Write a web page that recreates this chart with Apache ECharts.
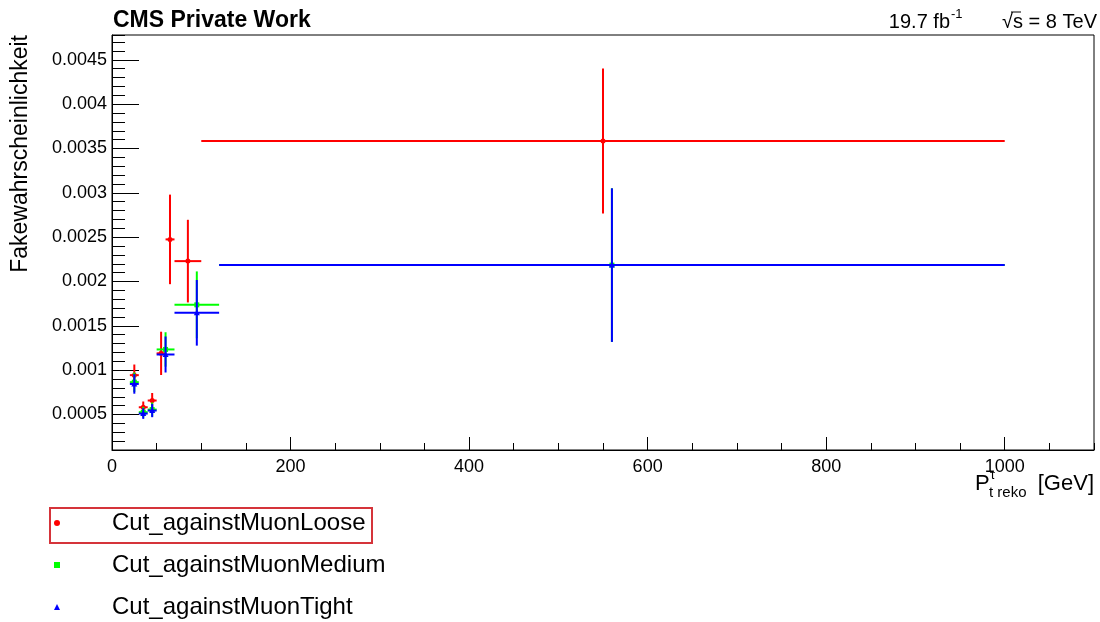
<!DOCTYPE html>
<html><head><meta charset="utf-8">
<script src="https://cdn.jsdelivr.net/npm/echarts/dist/echarts.min.js"></script>
<style>html,body{margin:0;padding:0;background:#fff}#c{width:1100px;height:622px}</style>
</head><body><div id="c"></div>
<script>
// ---- data ----
const seriesNames = ['Cut_againstMuonLoose', 'Cut_againstMuonMedium', 'Cut_againstMuonTight'];

const looseX    = [25, 35, 45, 55, 65, 85, 550];
const looseXLow = [20, 30, 40, 50, 60, 70, 100];
const looseXHigh= [30, 40, 50, 60, 70, 100, 1000];
const looseY    = [0.000944, 0.000582, 0.000658, 0.00119, 0.002475, 0.00223, 0.003585];
const looseYErr = [0.00012, 0.000065, 0.000085, 0.000244, 0.000505, 0.000466, 0.000818];

const mediumX    = [25, 35, 45, 60, 95, 560];
const mediumXLow = [20, 30, 40, 50, 70, 120];
const mediumXHigh= [30, 40, 50, 70, 120, 1000];
const mediumY    = [0.000865, 0.000526, 0.000556, 0.001234, 0.001737, 0.002185];
const mediumYErr = [0.00011, 0.00006, 0.00008, 0.000194, 0.000377, 0.000866];

const tightX    = [25, 35, 45, 60, 95, 560];
const tightXLow = [20, 30, 40, 50, 70, 120];
const tightXHigh= [30, 40, 50, 70, 120, 1000];
const tightY    = [0.000845, 0.000511, 0.000545, 0.001177, 0.001647, 0.002185];
const tightYErr = [0.00011, 0.00006, 0.000075, 0.000203, 0.00037, 0.000866];

const xRange = [0, 1100];
const yRange = [0.0001, 0.00478];

// ---- build ----
function build(x, xl, xh, y, ye) {
  return x.map((v, i) => [v, y[i], xl[i], xh[i], y[i] - ye[i], y[i] + ye[i]]);
}
const FONT = 'Liberation Sans, Arial, Helvetica, sans-serif';

function makeRender(shape) {
  return function (params, api) {
    const c = api.coord([api.value(0), api.value(1)]);
    const pl = api.coord([api.value(2), api.value(1)]);
    const ph = api.coord([api.value(3), api.value(1)]);
    const pb = api.coord([api.value(0), api.value(4)]);
    const pt = api.coord([api.value(0), api.value(5)]);
    const color = api.visual('color');
    const st = { stroke: color, lineWidth: 2 };
    const children = [
      { type: 'line', shape: { x1: pl[0], y1: c[1], x2: ph[0], y2: c[1] }, style: st },
      { type: 'line', shape: { x1: c[0], y1: pt[1], x2: c[0], y2: pb[1] }, style: st }
    ];
    if (shape === 'circle') {
      children.push({ type: 'circle', shape: { cx: c[0], cy: c[1], r: 2.5 }, style: { fill: color } });
    } else if (shape === 'rect') {
      children.push({ type: 'rect', shape: { x: c[0] - 2.5, y: c[1] - 2.5, width: 5, height: 5 }, style: { fill: color } });
    } else {
      children.push({ type: 'polygon', shape: { points: [[c[0], c[1] - 3], [c[0] - 3, c[1] + 2.5], [c[0] + 3, c[1] + 2.5]] }, style: { fill: color } });
    }
    return { type: 'group', children };
  };
}

const colors = ['#ff0000', '#00ff00', '#0000ff'];
const shapes = ['circle', 'rect', 'triangle'];
const datas = [
  build(looseX, looseXLow, looseXHigh, looseY, looseYErr),
  build(mediumX, mediumXLow, mediumXHigh, mediumY, mediumYErr),
  build(tightX, tightXLow, tightXHigh, tightY, tightYErr)
];

const series = seriesNames.map((n, i) => ({
  name: n,
  type: 'custom',
  xAxisIndex: 0,
  yAxisIndex: 0,
  itemStyle: { color: colors[i] },
  renderItem: makeRender(shapes[i]),
  encode: { x: [0, 2, 3], y: [1, 4, 5] },
  data: datas[i],
  z: 2 + i
}));

const axisText = { color: '#000', fontFamily: FONT, fontSize: 18 };
function yFmt(v) {
  const k = Math.round(v / 0.0005);
  if (Math.abs(v - k * 0.0005) > 1e-9) return '';
  return String(parseFloat(v.toPrecision(4)));
}

const chart = echarts.init(document.getElementById('c'));
chart.setOption({
  animation: false,
  backgroundColor: '#fff',
  grid: { left: 112, right: 6, top: 35, bottom: 172, show: true, borderColor: '#000', borderWidth: 1, backgroundColor: 'transparent' },
  xAxis: [
    { type: 'value', min: xRange[0], max: xRange[1], interval: 200,
      axisLine: { show: true, lineStyle: { color: '#000', width: 1 } },
      axisTick: { show: true, inside: true, length: 13, lineStyle: { color: '#000' } },
      axisLabel: Object.assign({ margin: 8, showMaxLabel: false, formatter: v => (v % 200 === 0 ? String(v) : '') }, axisText),
      splitLine: { show: false } },
    { type: 'value', min: xRange[0], max: xRange[1], interval: 50,
      position: 'bottom',
      axisLine: { show: false },
      axisTick: { show: true, inside: true, length: 7, lineStyle: { color: '#000' } },
      axisLabel: { show: false }, splitLine: { show: false } }
  ],
  yAxis: [
    { type: 'value', min: yRange[0], max: yRange[1], minInterval: 0.0005, maxInterval: 0.0005, splitNumber: 9,
      axisLine: { show: true, lineStyle: { color: '#000', width: 1 } },
      axisTick: { show: true, inside: true, length: 27, lineStyle: { color: '#000' } },
      axisLabel: Object.assign({ margin: 5, formatter: yFmt, showMinLabel: false, showMaxLabel: false }, axisText),
      splitLine: { show: false } },
    { type: 'value', min: yRange[0], max: yRange[1], interval: 0.0001,
      position: 'left',
      axisLine: { show: false },
      axisTick: { show: true, inside: true, length: 13, lineStyle: { color: '#000' } },
      axisLabel: { show: false }, splitLine: { show: false } }
  ],
  legend: {
    orient: 'vertical', left: 54, top: 511, bottom: 0, itemGap: 18, padding: 0,
    itemWidth: 6, itemHeight: 6,
    textStyle: { color: '#000', fontFamily: FONT, fontSize: 24, lineHeight: 24, padding: [0, 0, 0, 47] },
    data: [
      { name: seriesNames[0], icon: 'circle' },
      { name: seriesNames[1], icon: 'rect' },
      { name: seriesNames[2], icon: 'triangle' }
    ],
    selectedMode: false
  },
  graphic: [
    { type: 'rect', shape: { x: 50, y: 508, width: 322, height: 35 }, style: { fill: 'none', stroke: '#d5343a', lineWidth: 2 } },
    { type: 'text', x: 113, y: 21, style: { text: 'CMS Private Work', fontFamily: FONT, fontWeight: 'bold', fontSize: 23, fill: '#000', verticalAlign: 'middle', align: 'left' } },
    { type: 'text', x: 950, y: 22, style: { text: '19.7 fb', fontFamily: FONT, fontSize: 20, fill: '#000', verticalAlign: 'middle', align: 'right' } },
    { type: 'text', x: 951, y: 14, style: { text: '-1', fontFamily: FONT, fontSize: 13, fill: '#000', verticalAlign: 'middle', align: 'left' } },
    { type: 'text', x: 1097, y: 22, style: { text: '√s = 8 TeV', fontFamily: FONT, fontSize: 20, fill: '#000', verticalAlign: 'middle', align: 'right' } },
    { type: 'line', shape: { x1: 1011, y1: 12, x2: 1021, y2: 12 }, style: { stroke: '#000', lineWidth: 1 } },
    { type: 'text', x: 21, y: 35, rotation: Math.PI / 2, style: { text: 'Fakewahrscheinlichkeit', fontFamily: FONT, fontSize: 23, fill: '#000', verticalAlign: 'middle', align: 'right' } },
    { type: 'text', x: 975, y: 484, style: { text: 'P', fontFamily: FONT, fontSize: 22, fill: '#000', verticalAlign: 'middle', align: 'left' } },
    { type: 'text', x: 990, y: 475, style: { text: 'τ', fontFamily: FONT, fontSize: 13, fill: '#000', verticalAlign: 'middle', align: 'left' } },
    { type: 'text', x: 989, y: 493, style: { text: 't reko', fontFamily: FONT, fontSize: 15, fill: '#000', verticalAlign: 'middle', align: 'left' } },
    { type: 'text', x: 1094, y: 484, style: { text: '[GeV]', fontFamily: FONT, fontSize: 22, fill: '#000', verticalAlign: 'middle', align: 'right' } }
  ],
  series
});
</script></body></html>
